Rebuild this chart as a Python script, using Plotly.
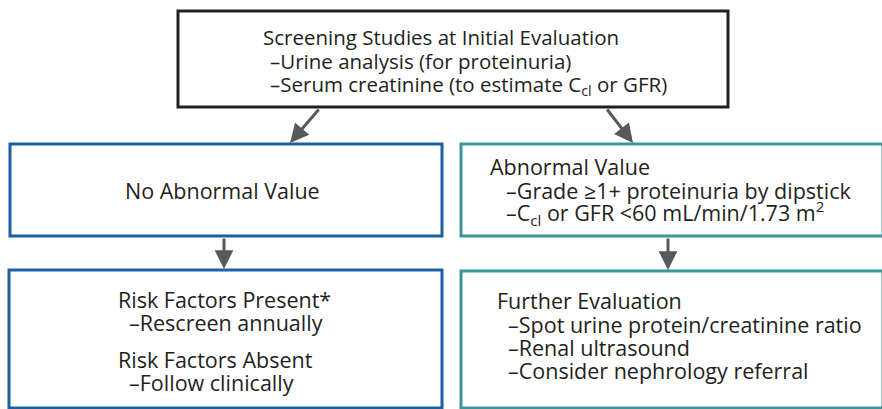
import plotly.graph_objects as go

# ---- text content ----
top_lines = ["Screening Studies at Initial Evaluation",
             "–Urine analysis (for proteinuria)",
             "–Serum creatinine (to estimate C<sub>cl</sub> or GFR)"]
no_abn_lines = ["No Abnormal Value"]
abn_lines = ["Abnormal Value",
             "–Grade ≥1+ proteinuria by dipstick",
             "–C<sub>cl</sub> or GFR <60 mL/min/1.73 m<sup>2</sup>"]
risk_lines = ["Risk Factors Present*",
              "–Rescreen annually",
              "Risk Factors Absent",
              "–Follow clinically"]
further_lines = ["Further Evaluation",
                 "–Spot urine protein/creatinine ratio",
                 "–Renal ultrasound",
                 "–Consider nephrology referral"]

# ---- layout geometry (pixels) ----
W, H = 882, 409
BLACK, BLUE, TEAL, GRAY, TXT = "#231f20", "#1d5f9f", "#3a9799", "#58595b", "#231f20"
FONT = "Open Sans"
FS = 21.5

boxes = [  # x0, y0, x1, y1, color, width
    (178, 11, 728, 107, BLACK, 3),
    (10, 144, 442, 236, BLUE, 3),
    (461, 144, 883, 236, TEAL, 3),
    (9, 270, 442, 408, BLUE, 3),
    (461, 271, 883, 408, TEAL, 3),
]

# text blocks: lines, x positions, y positions, anchor, font size
blocks = [
    (top_lines, [261, 268, 268], [37, 61, 85], "left", 20.5),
    (no_abn_lines, [222], [190], "center", FS),
    (abn_lines, [488, 504, 504], [166, 190, 213], "left", FS),
    (risk_lines, [116, 127, 116, 127], [299, 322, 359, 382], "left", FS),
    (further_lines, [495, 506, 506, 506], [300, 324, 347, 370], "left", FS),
]

arrows = [  # tail x, tail y, tip x, tip y
    (320, 108, 290, 143),
    (606, 108, 633, 143),
    (224, 237, 224, 269),
    (668, 237, 668, 270),
]

fig = go.Figure()
fig.add_trace(go.Scatter(x=[0, W], y=[0, H], mode="markers",
                         marker=dict(opacity=0), hoverinfo="skip", showlegend=False))

for x0, y0, x1, y1, c, lw in boxes:
    fig.add_shape(type="rect", x0=x0, y0=y0, x1=x1, y1=y1, xref="x", yref="y",
                  line=dict(color=c, width=lw), fillcolor="white", layer="below")

for lines, xs, ys, anchor, fs in blocks:
    for t, x, y in zip(lines, xs, ys):
        fig.add_annotation(x=x, y=y, text=t, showarrow=False, xanchor=anchor,
                           yanchor="middle", xref="x", yref="y",
                           font=dict(family=FONT, size=fs, color=TXT))

for ax, ay, x, y in arrows:
    fig.add_annotation(x=x, y=y, ax=ax, ay=ay, axref="x", ayref="y", xref="x", yref="y",
                       text="", showarrow=True, arrowhead=2, arrowsize=1.25,
                       arrowwidth=3, arrowcolor=GRAY, standoff=0)

fig.update_layout(
    width=W, height=H, margin=dict(l=0, r=0, t=0, b=0),
    paper_bgcolor="white", plot_bgcolor="white",
    xaxis=dict(range=[0, W], visible=False, fixedrange=True),
    yaxis=dict(range=[H, 0], visible=False, fixedrange=True),
    showlegend=False,
)

fig.write_html("out.html", config={"displayModeBar": False},
               post_script="document.body.style.margin='0';document.body.style.overflow='hidden';")
